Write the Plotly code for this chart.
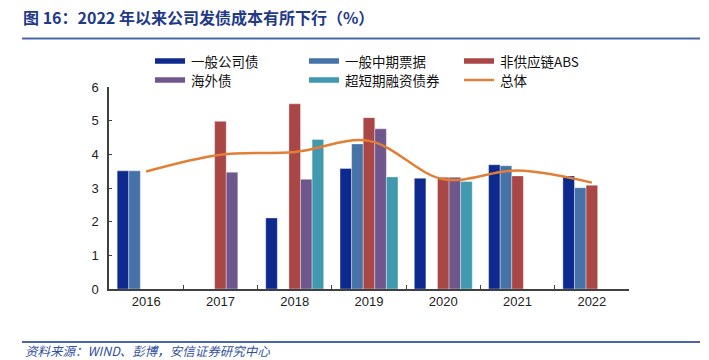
import plotly.graph_objects as go

years = ["2016", "2017", "2018", "2019", "2020", "2021", "2022"]
general_corp = [3.51, None, 2.11, 3.58, 3.29, 3.69, 3.36]
mtn = [3.51, None, None, 4.31, None, 3.66, 3.01]
abs_nonsupply = [None, 4.98, 5.50, 5.09, 3.32, 3.36, 3.08]
overseas = [None, 3.47, 3.26, 4.76, 3.32, None, None]
sscp = [None, None, 4.44, 3.33, 3.19, None, None]
total = [3.49, 3.99, 4.07, 4.40, 3.26, 3.52, 3.16]

names = ["一般公司债", "一般中期票据", "非供应链ABS", "海外债", "超短期融资债券", "总体"]
colors = ["#0E2A8E", "#4672A8", "#A94646", "#6F578E", "#4199B0", "#E07F35"]
series = [general_corp, mtn, abs_nonsupply, overseas, sscp]

FONT = "Liberation Sans, Arial, Noto Sans CJK SC, sans-serif"
CJK = "Noto Sans CJK SC, sans-serif"

fig = go.Figure()
for n, c, s in zip(names[:5], colors[:5], series):
    fig.add_trace(go.Bar(x=years, y=s, name=n, marker=dict(color=c, line=dict(color="rgba(255,255,255,0.6)", width=0.6)),
                         showlegend=False, hoverinfo="skip"))
fig.add_trace(go.Scatter(x=years, y=total, name=names[5], mode="lines",
                         line=dict(color=colors[5], width=2.5, shape="spline", smoothing=1.0),
                         showlegend=False, hoverinfo="skip"))

W, H = 709, 360
L, R, T, B = 109, 629, 87, 289

def px(x):
    return (x - L) / (R - L)

def py(y):
    return (B - y) / (B - T)

shapes = []
annotations = []
# custom legend
leg_pos = [(155, 61), (309, 61), (464, 61), (155, 80), (309, 80), (464, 80)]
for i, (n, c) in enumerate(zip(names, colors)):
    x0, y0 = leg_pos[i]
    h = 5.5 if i < 5 else 2.5
    shapes.append(dict(type="rect", xref="paper", yref="paper", x0=px(x0), x1=px(x0 + 30),
                       y0=py(y0 + h / 2), y1=py(y0 - h / 2), fillcolor=c, line=dict(width=0)))
    annotations.append(dict(xref="paper", yref="paper", x=px(x0 + 34), y=py(y0), text=n, showarrow=False,
                            xanchor="left", yanchor="middle", font=dict(family=CJK, size=13.5, color="#111")))

# title and rules
annotations.append(dict(xref="paper", yref="paper", x=px(21), y=py(17), text="<b>图 16：2022 年以来公司发债成本有所下行（%）</b>",
                        showarrow=False, xanchor="left", yanchor="middle",
                        font=dict(family=CJK, size=16, color="#1F3A88")))
shapes.append(dict(type="line", xref="paper", yref="paper", x0=px(22), x1=px(700), y0=py(38.5), y1=py(38.5),
                   line=dict(color="#4A66AA", width=2)))
shapes.append(dict(type="line", xref="paper", yref="paper", x0=px(22), x1=px(700), y0=py(342), y1=py(342),
                   line=dict(color="#4A66AA", width=2)))
annotations.append(dict(xref="paper", yref="paper", x=px(23), y=py(350.5), text="<i>资料来源：WIND、彭博，安信证券研究中心</i>",
                        showarrow=False, xanchor="left", yanchor="middle",
                        font=dict(family=CJK, size=12.5, color="#3050A2")))

fig.update_layout(
    width=W, height=H,
    margin=dict(l=L, r=W - R, t=T, b=H - B, pad=0),
    paper_bgcolor="white", plot_bgcolor="white",
    barmode="group", bargap=0.22, bargroupgap=0,
    font=dict(family=FONT, size=13, color="#222"),
    shapes=shapes, annotations=annotations,
    showlegend=False, hovermode=False,
)
fig.update_xaxes(type="category", showline=True, linecolor="#404040", linewidth=1.5,
                 ticks="inside", tickson="boundaries", ticklen=4, tickcolor="#404040", tickwidth=1.2,
                 showgrid=False, tickfont=dict(family=FONT, size=13, color="#222"))
fig.update_yaxes(range=[0, 6], dtick=1, showline=True, linecolor="#404040", linewidth=1.5,
                 ticks="inside", ticklen=3, tickcolor="#404040", tickwidth=1.2, showgrid=False, zeroline=False,
                 tickfont=dict(family=FONT, size=13, color="#222"), ticklabelstandoff=6)

fig.write_html("out.html", config={"displayModeBar": False},
               post_script="document.body.style.margin='0';document.body.style.padding='0';document.body.style.overflow='hidden';")
